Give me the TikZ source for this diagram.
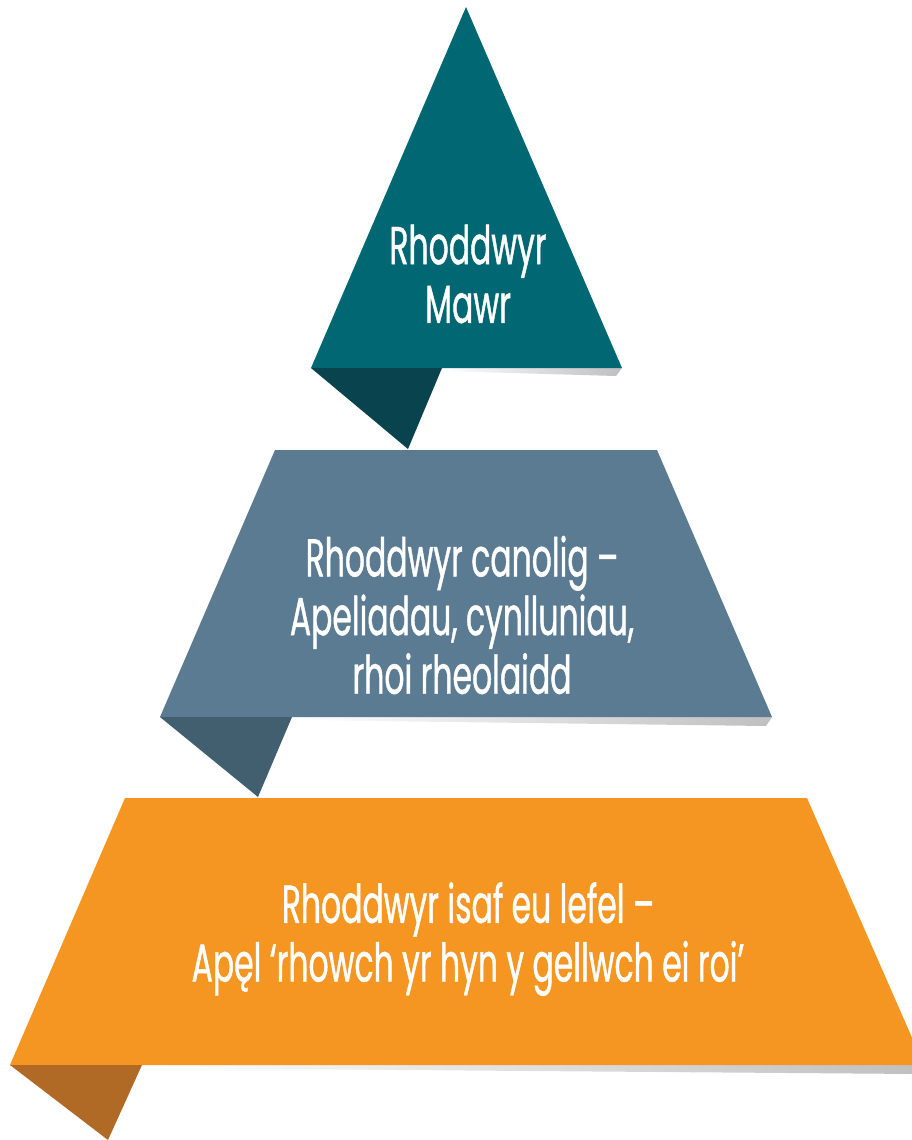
\documentclass[tikz,border=0pt]{standalone}
\usepackage{fontspec}
\setmainfont{Poppins}[FakeStretch=0.59,FakeBold=0.8]
\usepackage{tikz}

\definecolor{tealtop}{RGB}{0,103,115}
\definecolor{tealfold}{RGB}{9,67,77}
\definecolor{slatemid}{RGB}{90,123,146}
\definecolor{slatefold}{RGB}{65,95,111}
\definecolor{orangelow}{RGB}{244,150,33}
\definecolor{orangefold}{RGB}{176,106,38}

\tikzset{
  bandtext/.style={text=white, align=center, inner sep=0.75pt,
    font=\fontsize{40}{44}\selectfont},
  undershadow/.style={left color=white, right color=black!25, draw=none}
}

\begin{document}
\begin{tikzpicture}[x=0.75pt,y=0.75pt,yscale=-1,xscale=1]
\useasboundingbox (0,0) rectangle (912,1140);
\clip (0,0) rectangle (912,1140);

%Shape: top triangle
\shade [undershadow] (442,368) -- (622,368) -- (616,376) -- (442,371) -- cycle ;
\fill [tealtop] (466,7) -- (622,368) -- (311,368) -- cycle ;
%Shape: top fold
\fill [tealfold] (311,368) -- (442,368) -- (408,449) -- cycle ;

%Shape: middle band
\shade [undershadow] (292,717) -- (772,717) -- (766,726) -- (292,720) -- cycle ;
\fill [slatemid] (275,450) -- (657,450) -- (772,717) -- (160,717) -- cycle ;
%Shape: middle fold
\fill [slatefold] (160,717) -- (292,717) -- (258,797) -- cycle ;

%Shape: bottom band
\shade [undershadow] (142,1065) -- (924,1065) -- (918,1074) -- (142,1068) -- cycle ;
\fill [orangelow] (125,798) -- (807,798) -- (924,1065) -- (10,1065) -- cycle ;
%Shape: bottom fold
\fill [orangefold] (10,1065) -- (142,1065) -- (108,1140) -- cycle ;

% Text Node
\node [bandtext] (donmawr) at (468,274) {Rhoddwyr\\Mawr};
% Text Node
\node [bandtext] (doncanolig) at (462,615) {Rhoddwyr canolig –\\Apeliadau, cynlluniau,\\rhoi rheolaidd};
% Text Node
\node [bandtext] (donisaf) at (468,939) {Rhoddwyr isaf eu lefel –\\Apęl ‘rhowch yr hyn y gellwch ei roi’};

\end{tikzpicture}
\end{document}
